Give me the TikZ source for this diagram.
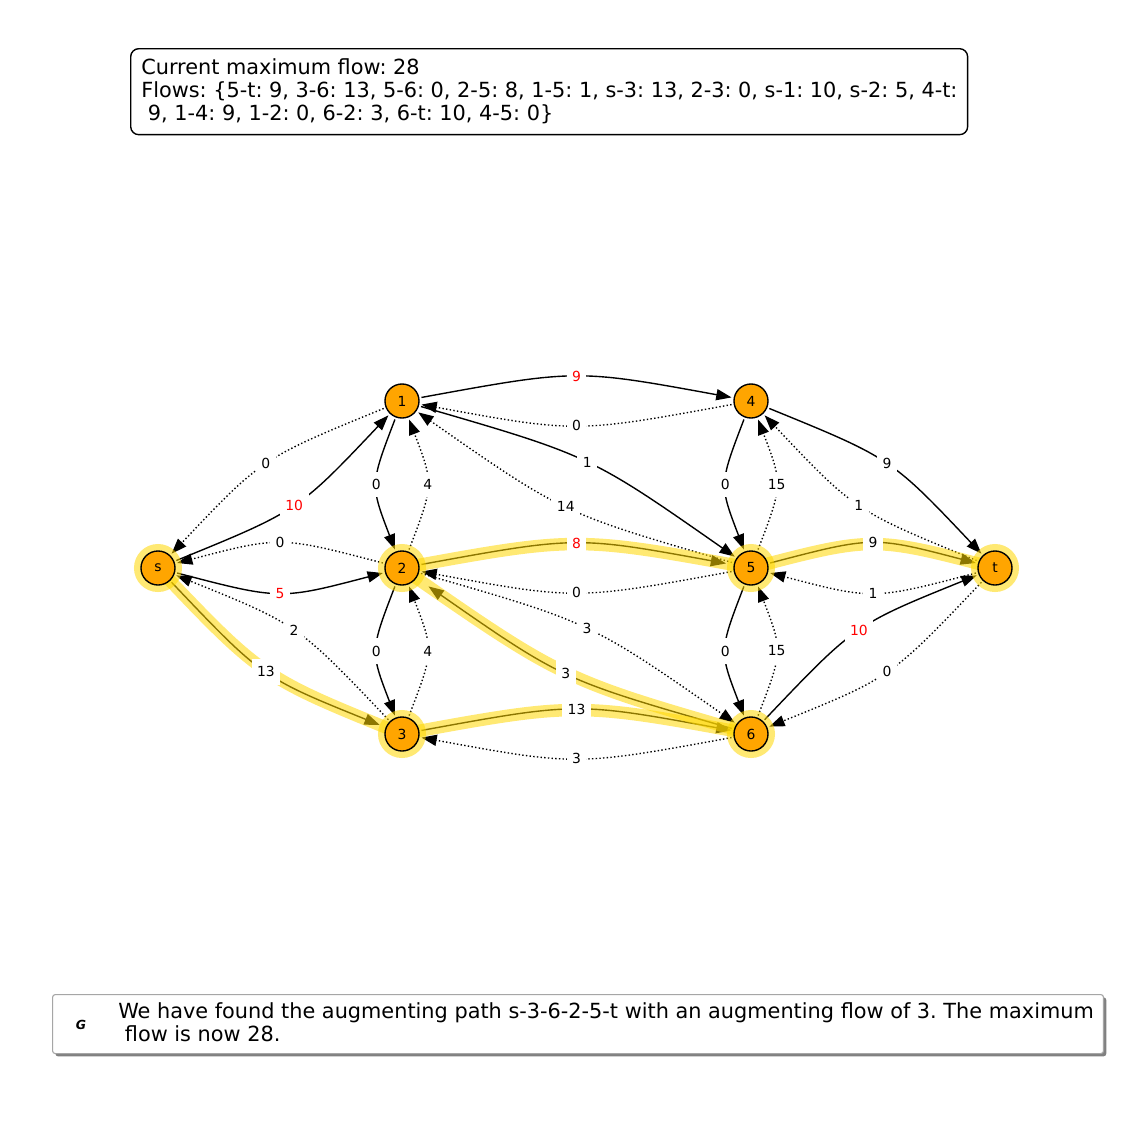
\documentclass[tikz,border=0pt]{standalone}
\usepackage{fontspec}
\setmainfont{DejaVu Sans}
\usetikzlibrary{arrows.meta,calc,shadows}
\pgfdeclarelayer{bandl}\pgfdeclarelayer{ringl}\pgfdeclarelayer{nodel}\pgfdeclarelayer{labl}
\pgfsetlayers{main,bandl,ringl,nodel,labl}
\definecolor{nodeorange}{RGB}{255,165,0}
\definecolor{hlgold}{RGB}{255,215,0}
\frenchspacing
\tikzset{
  vtx/.style={circle,draw=black,line width=1pt,fill=nodeorange,minimum size=24.5pt,inner sep=0pt,outer sep=2pt,font=\fontsize{10}{12}\selectfont},
  hlring/.style={circle,fill=hlgold,fill opacity=0.55,minimum size=34.6pt,inner sep=0pt},
  fwdedge/.style={line width=1pt,-{Triangle[length=11pt,width=8pt]}},
  resedge/.style={fwdedge,dash pattern=on 1pt off 1.65pt},
  hlband/.style={line width=9pt,draw=hlgold,opacity=0.55},
  elabel/.style={fill=white,inner xsep=4pt,inner ysep=5.5pt,font=\fontsize{10}{12}\selectfont},
  bigtext/.style={font=\fontsize{15}{16.6}\selectfont},
}
\newcommand\fedge[6]{%
  \draw[#1] (#2) .. controls ($(#2)!0.5!(#3)!23pt!#4:(#3)$) .. (#3);
  \begin{pgfonlayer}{labl}
  \path (#2) .. controls ($(#2)!0.5!(#3)!23pt!#4:(#3)$) .. (#3) node[elabel,midway,text=#6]{#5};
  \end{pgfonlayer}}
\newcommand\hledge[3]{%
  \draw[hlband] (#1.center) .. controls ($(#1)!0.5!(#2)!23pt!#3:(#2)$) .. (#2.center);}
\begin{document}
\begin{tikzpicture}[x=0.72pt,y=-0.72pt]
\fill[white] (0,0) rectangle (1125,1125);
\useasboundingbox (0,0) rectangle (1125,1125);
% nodes
\begin{pgfonlayer}{nodel}
\node[vtx] (ns) at (158,568) {s};
\node[vtx] (n1) at (402,401) {1};
\node[vtx] (n2) at (402,568) {2};
\node[vtx] (n3) at (402,734) {3};
\node[vtx] (n4) at (751,401) {4};
\node[vtx] (n5) at (751,568) {5};
\node[vtx] (n6) at (751,734) {6};
\node[vtx] (nt) at (995,568) {t};
\end{pgfonlayer}
\begin{pgfonlayer}{ringl}
\node[hlring] (rs) at (ns.center) {};
\node[hlring] (r2) at (n2.center) {};
\node[hlring] (r3) at (n3.center) {};
\node[hlring] (r5) at (n5.center) {};
\node[hlring] (r6) at (n6.center) {};
\node[hlring] (rt) at (nt.center) {};
\end{pgfonlayer}
% edges
\fedge{fwdedge}{n1}{n4}{90}{9}{red}
\fedge{resedge}{n4}{n1}{90}{0}{black}
\fedge{fwdedge}{n4}{nt}{90}{9}{black}
\fedge{resedge}{nt}{n4}{90}{1}{black}
\fedge{fwdedge}{n1}{n5}{90}{1}{black}
\fedge{resedge}{n5}{n1}{90}{14}{black}
\fedge{fwdedge}{ns}{n1}{-90}{10}{red}
\fedge{resedge}{n1}{ns}{-90}{0}{black}
\fedge{fwdedge}{ns}{n2}{-90}{5}{red}
\fedge{resedge}{n2}{ns}{-90}{0}{black}
\fedge{{fwdedge,shorten >=3pt}}{ns}{n3}{-90}{13}{black}
\fedge{resedge}{n3}{ns}{-90}{2}{black}
\fedge{fwdedge}{n1}{n2}{-90}{0}{black}
\fedge{resedge}{n2}{n1}{-90}{4}{black}
\fedge{fwdedge}{n2}{n3}{-90}{0}{black}
\fedge{resedge}{n3}{n2}{-90}{4}{black}
\fedge{{fwdedge,shorten >=4pt}}{n2}{n5}{90}{8}{red}
\fedge{resedge}{n5}{n2}{90}{0}{black}
\fedge{resedge}{n2}{n6}{90}{3}{black}
\fedge{{fwdedge,shorten >=9pt}}{n6}{n2}{90}{3}{black}
\fedge{fwdedge}{n3}{n6}{90}{13}{black}
\fedge{resedge}{n6}{n3}{90}{3}{black}
\fedge{fwdedge}{n4}{n5}{-90}{0}{black}
\fedge{resedge}{n5}{n4}{-90}{15}{black}
\fedge{fwdedge}{n5}{n6}{-90}{0}{black}
\fedge{resedge}{n6}{n5}{-90}{15}{black}
\fedge{fwdedge}{n5}{nt}{90}{9}{black}
\fedge{resedge}{nt}{n5}{90}{1}{black}
\fedge{fwdedge}{n6}{nt}{90}{10}{red}
\fedge{resedge}{nt}{n6}{90}{0}{black}
% highlighted path
\begin{pgfonlayer}{bandl}
\hledge{ns}{n3}{-90}
\hledge{n3}{n6}{90}
\hledge{n6}{n2}{90}
\hledge{n2}{n5}{90}
\hledge{n5}{nt}{90}
\end{pgfonlayer}
% top info box
\node[draw=black,line width=1pt,rounded corners=5.8pt,minimum width=602.6pt,minimum height=61.9pt,anchor=north west,inner sep=0pt] (infobox) at (130,48) {};
\node[bigtext,anchor=west,align=left,inner sep=0pt] (infotext) at (141,91) {Current maximum flow: 28\\Flows: \{5-t: 9, 3-6: 13, 5-6: 0, 2-5: 8, 1-5: 1, s-3: 13, 2-3: 0, s-1: 10, s-2: 5, 4-t:\\\mbox{}\ 9, 1-4: 9, 1-2: 0, 6-2: 3, 6-t: 10, 4-5: 0\}};
% bottom legend box
\node[draw=black!35,line width=0.8pt,fill=white,rounded corners=2pt,drop shadow={shadow xshift=2pt,shadow yshift=-2pt,fill=black!50,opacity=1},minimum width=756.7pt,minimum height=42.5pt,anchor=north west,inner sep=0pt] (legbox) at (52,994) {};
\node[font=\fontsize{9}{10}\selectfont\bfseries\itshape,inner sep=0pt] (gicon) at (81,1025) {G};
\node[bigtext,anchor=west,align=left,inner sep=0pt] (legtext) at (118,1022) {We have found the augmenting path s-3-6-2-5-t with an augmenting flow of 3. The maximum\\\mbox{}\ flow is now 28.};
\end{tikzpicture}
\end{document}
